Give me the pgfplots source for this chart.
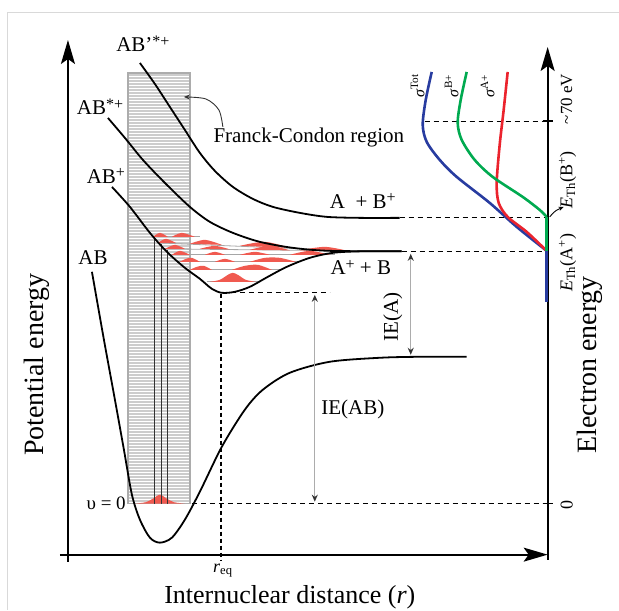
\documentclass[border=0pt]{standalone}
\usepackage{pgfplots}
\pgfplotsset{compat=1.18}
\usepackage{fontspec}
\setmainfont{Liberation Serif}
\usetikzlibrary{arrows.meta,patterns}
\definecolor{cblue}{RGB}{40,60,160}
\definecolor{cgreen}{RGB}{0,170,80}
\definecolor{cred}{RGB}{235,35,45}
\definecolor{cpink}{RGB}{240,90,80}
\newcommand\fs[1]{\fontsize{#1}{#1}\selectfont}
\newcommand\sps[1]{\raisebox{0.55ex}{\fs{16}#1}}
\begin{document}
\begin{tikzpicture}
\begin{axis}[x=1pt,y=1pt,xmin=0,xmax=619,ymin=0,ymax=610,y dir=reverse,
  axis lines=none,clip=false,
  every axis plot/.append style={no markers}]
% bounding box
\addplot[draw=none] coordinates {(0,0)(619,610)};
% frame
\addplot[gray!30,line width=0.8] coordinates {(7,610)(7,12)(619,12)};
% Franck-Condon region
\addplot[draw=gray!65,line width=1.5,fill=gray!40,postaction={pattern=horizontal lines,pattern color=white}]
  coordinates {(128,504)(128,73)(190,73)(190,504)} -- cycle;
% vibrational levels of AB+
\addplot[gray!70,line width=0.8] coordinates {(207,282)(259,282)};
\addplot[gray!70,line width=0.8] coordinates {(188,270)(281,270)};
\addplot[gray!70,line width=0.8] coordinates {(178,262)(300,262)};
\addplot[gray!70,line width=0.8] coordinates {(170,255)(335,255)};
\addplot[gray!70,line width=0.8] coordinates {(163,249)(350,251)};
\addplot[gray!70,line width=0.8] coordinates {(157,243)(350,251)};
\addplot[gray!70,line width=0.8] coordinates {(152,237)(200,237)};
% red wavefunctions
\addplot[draw=none,fill=cpink,smooth] coordinates {(210,282)(220,280)(228,275)(233,273)(238,275)(246,280)(256,282)} -- cycle;
\addplot[draw=none,fill=cpink,smooth] coordinates {(190,270)(197,267)(204,266)(212,270)} -- cycle;
\addplot[draw=none,fill=cpink,smooth] coordinates {(232,270)(245,266)(258,265)(272,270)} -- cycle;
\addplot[draw=none,fill=cpink,smooth] coordinates {(180,262)(186,259)(192,258)(200,262)} -- cycle;
\addplot[draw=none,fill=cpink,smooth] coordinates {(215,262)(225,259)(235,262)} -- cycle;
\addplot[draw=none,fill=cpink,smooth] coordinates {(250,262)(265,258)(280,258)(296,262)} -- cycle;
\addplot[draw=none,fill=cpink,smooth] coordinates {(172,255)(180,251)(190,255)} -- cycle;
\addplot[draw=none,fill=cpink,smooth] coordinates {(205,255)(215,252)(225,255)} -- cycle;
\addplot[draw=none,fill=cpink,smooth] coordinates {(240,255)(255,252)(270,255)} -- cycle;
\addplot[draw=none,fill=cpink,smooth] coordinates {(290,255)(310,251)(330,255)} -- cycle;
\addplot[draw=none,fill=cpink,smooth] coordinates {(165,249)(175,245)(185,249)} -- cycle;
\addplot[draw=none,fill=cpink,smooth] coordinates {(200,249)(215,246)(230,249.5)} -- cycle;
\addplot[draw=none,fill=cpink,smooth] coordinates {(250,250)(270,246)(290,250.5)} -- cycle;
\addplot[draw=none,fill=cpink,smooth] coordinates {(300,250.5)(325,247)(348,251)} -- cycle;
\addplot[draw=none,fill=cpink,smooth] coordinates {(158,243)(166,239)(176,243)} -- cycle;
\addplot[draw=none,fill=cpink,smooth] coordinates {(190,244)(205,240)(222,245)} -- cycle;
\addplot[draw=none,fill=cpink,smooth] coordinates {(240,246)(265,242)(290,248)} -- cycle;
\addplot[draw=none,fill=cpink,smooth] coordinates {(153,237)(160,233)(168,237)} -- cycle;
\addplot[draw=none,fill=cpink,smooth] coordinates {(172,237)(182,233)(195,237)} -- cycle;
% v=0 wavefunction
\addplot[draw=none,fill=cpink,smooth] coordinates {(135,504)(146,502.5)(153,499)(160,495)(167,499)(174,502.5)(185,504)} -- cycle;
% transitions
\addplot[black!80,line width=1] coordinates {(155,504)(155,237)};
\addplot[black!80,line width=1] coordinates {(162,504)(162,244)};
\addplot[black!80,line width=1] coordinates {(168,504)(168,250)};
% dashed lines
\addplot[black,line width=0.8,dash pattern=on 5pt off 4pt] coordinates {(400,218)(547,218)};
\addplot[black,line width=0.8,dash pattern=on 5pt off 4pt] coordinates {(402,252)(547,252)};
\addplot[black,line width=0.8,dash pattern=on 5pt off 4pt] coordinates {(425,121)(547,121)};
\addplot[black,line width=0.8,dash pattern=on 5pt off 4pt] coordinates {(222,293)(330,293)};
\addplot[black,line width=0.8,dash pattern=on 5pt off 4pt] coordinates {(192,504)(547,504)};
\addplot[black,line width=1.6,dash pattern=on 4pt off 3pt] coordinates {(221,294)(221,561)};
% potential curves
\addplot[black,line width=1.8,smooth] coordinates {(92,272)(104,340)(115,400)(124,450)(132,495)(140,520)(150,538)(160,543)(172,538)(185,520)(200,492)(222,447)(245,410)(263,390)(290,373)(330,362)(380,358)(420,357)(467,357)};
\addplot[black,line width=1.8,smooth] coordinates {(112,187)(130,207)(150,233)(167,252)(185,268)(200,279)(212,289)(222,293)(235,292)(250,287)(268,277)(287,267)(310,258)(333,253)(360,251.5)(402,251.5)};
\addplot[black,line width=1.8,smooth] coordinates {(108,118)(125,138)(143,160)(165,183)(190,207)(210,222)(233,233)(260,242)(293,248)(330,251)(402,251.5)};
\addplot[black,line width=1.8,smooth] coordinates {(140,63)(155,84)(170,107)(185,130)(200,153)(215,171)(233,187)(253,199)(273,207)(300,213)(327,217)(360,218)(400,218)};
% IE arrows
\addplot[gray!65,line width=1.3,{Stealth[length=7pt,width=6pt,black!80]}-{Stealth[length=7pt,width=6pt,black!80]}] coordinates {(315,295)(315,502)};
\addplot[gray!65,line width=1.3,{Stealth[length=7pt,width=6pt,black!80]}-{Stealth[length=7pt,width=6pt,black!80]}] coordinates {(411,254)(411,355)};
% Franck-Condon pointer
\addplot[black!80,line width=0.9,smooth,-{Stealth[length=6pt,width=5pt]}] coordinates {(223,127)(219,110)(206,99)(184,97)};
% axes
\addplot[black,line width=1.8,-{Stealth[length=24pt,width=14pt,inset=5pt]}] coordinates {(68,562)(68,40)};
\addplot[black,line width=1.8,-{Stealth[length=24pt,width=14pt,inset=5pt]}] coordinates {(60,555)(548,555)};
\addplot[black,line width=1.8,-{Stealth[length=24pt,width=14pt,inset=5pt]}] coordinates {(548,560)(548,47)};
\addplot[black,line width=1.2] coordinates {(543,121)(553,121)};
\addplot[black,line width=1.2] coordinates {(543,504)(553,504)};
% cross sections
\addplot[cblue,line width=2.6,smooth] coordinates {(432,72)(426,100)(423,125)(427,142)(440,160)(457,177)(490,203)(517,227)(547,251)};
\addplot[cblue,line width=2.6] coordinates {(547,251)(547,302)};
\addplot[cred,line width=2.6,smooth] coordinates {(508,72)(504,110)(500,145)(497,183)(499,203)(508,217)(527,232)(546,250)};
\addplot[cgreen,line width=2.6,smooth] coordinates {(467,72)(461,100)(458,123)(462,140)(475,160)(493,177)(523,197)(540,210)(547,217)};
\addplot[cgreen,line width=2.6] coordinates {(547,217)(547,251)};
\addplot[black,line width=0.9,smooth,-{Stealth[length=5pt,width=4pt]}] coordinates {(550,217)(556,211)(564,207)};
% labels
\node[font=\fs{21}] at (axis cs:143,44) {AB’\sps{*+}};
\node[font=\fs{21}] at (axis cs:100,107) {AB\sps{*+}};
\node[font=\fs{21}] at (axis cs:106,176) {AB\sps{+}};
\node[font=\fs{21}] at (axis cs:93,258) {AB};
\node[font=\fs{21}] at (axis cs:363,201) {A\ \ + B\sps{+}};
\node[font=\fs{21}] at (axis cs:361,268) {A\sps{+} + B};
\node[font=\fs{21}] at (axis cs:309,138) {Franck-Condon region};
\node[font=\fs{21}] at (axis cs:353,410) {IE(AB)};
\node[font=\fs{21},rotate=90] at (axis cs:393,317) {IE(A)};
\node[font=\fs{19},anchor=east,inner sep=1pt] at (axis cs:127,504) {υ = 0};
\node[font=\fs{18},inner sep=1pt] at (axis cs:223,571) {\textit{r}\textsubscript{eq}};
\node[font=\fs{26},inner sep=1pt] at (axis cs:290,598) {Internuclear distance (\textit{r})};
\node[font=\fs{28},rotate=90] at (axis cs:37,365) {Potential energy};
\node[font=\fs{28},rotate=90] at (axis cs:590,365) {Electron energy};
\node[font=\fs{17},rotate=90] at (axis cs:567,99) {\textasciitilde70 eV};
\node[font=\fs{18},rotate=90] at (axis cs:568,180) {\textit{E}\textsubscript{Th}(B\textsuperscript{+})};
\node[font=\fs{18},rotate=90] at (axis cs:568,263) {\textit{E}\textsubscript{Th}(A\textsuperscript{+})};
\node[font=\fs{18},rotate=90] at (axis cs:567,505) {0};
\node[font=\fs{16},rotate=90] at (axis cs:418,86) {\textit{σ}\textsuperscript{Tot}};
\node[font=\fs{16},rotate=90] at (axis cs:452,86) {\textit{σ}\textsuperscript{B+}};
\node[font=\fs{16},rotate=90] at (axis cs:488,86) {\textit{σ}\textsuperscript{A+}};
\end{axis}
\end{tikzpicture}
\end{document}
